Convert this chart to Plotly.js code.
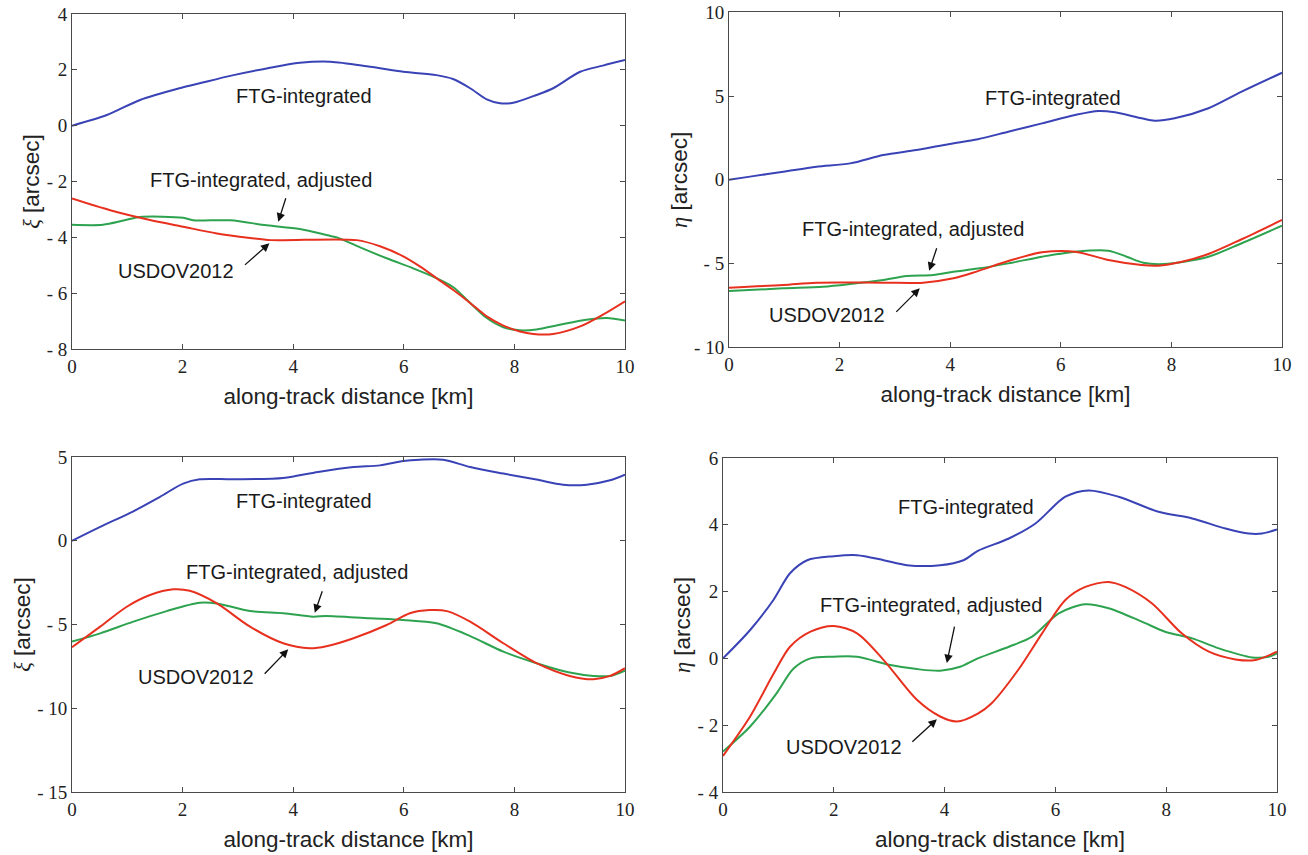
<!DOCTYPE html>
<html>
<head>
<meta charset="utf-8">
<script src="https://cdn.plot.ly/plotly-3.0.1.min.js"></script>
<style>
  html, body { margin: 0; padding: 0; background: #ffffff; }
  #chart { width: 1308px; height: 855px; }
</style>
</head>
<body>
<div id="chart"></div>
<script>
// ---- along-track profiles, panel (a): xi, first track ----
const xiA_ftg_x  = [0, 0.63, 1.23, 1.98, 2.31, 2.92, 3.52, 4.12, 4.67, 5.39, 5.99, 6.59, 6.89, 7.2, 7.5, 7.74, 7.98, 8.4, 8.7, 9.19, 9.6, 10];
const xiA_ftg_y  = [0, 0.38, 0.92, 1.36, 1.52, 1.81, 2.05, 2.25, 2.29, 2.11, 1.93, 1.81, 1.67, 1.34, 0.94, 0.80, 0.82, 1.10, 1.34, 1.93, 2.15, 2.35];
const xiA_usd_x  = [0, 0.69, 1.41, 2.01, 2.62, 3.22, 3.6, 5.15, 5.57, 5.99, 6.29, 6.59, 6.89, 7.2, 7.5, 7.8, 8.1, 8.34, 8.7, 9.19, 9.6, 10];
const xiA_usd_y  = [-2.61, -3.03, -3.38, -3.62, -3.86, -4.02, -4.1, -4.1, -4.32, -4.68, -5.04, -5.46, -5.88, -6.35, -6.83, -7.16, -7.37, -7.46, -7.46, -7.19, -6.77, -6.29];
const xiA_adj_x  = [0, 0.56, 0.93, 1.23, 2.01, 2.19, 2.86, 3.52, 4.12, 4.67, 4.79, 5.21, 5.69, 6.17, 6.59, 6.89, 7.2, 7.5, 7.8, 8.1, 8.4, 8.82, 9.3, 9.67, 10];
const xiA_adj_y  = [-3.55, -3.55, -3.4, -3.27, -3.3, -3.39, -3.39, -3.57, -3.7, -3.95, -4.0, -4.36, -4.75, -5.11, -5.46, -5.78, -6.35, -6.89, -7.22, -7.33, -7.3, -7.13, -6.95, -6.89, -6.98];

// ---- panel (b): eta, first track ----
const etaA_ftg_x = [0, 0.38, 0.98, 1.58, 2.19, 2.79, 3.39, 3.99, 4.5, 5.05, 5.66, 6.26, 6.68, 6.98, 7.46, 7.7, 8.06, 8.67, 9.27, 10];
const etaA_ftg_y = [0, 0.19, 0.48, 0.78, 0.98, 1.48, 1.78, 2.14, 2.42, 2.87, 3.37, 3.87, 4.11, 4.03, 3.67, 3.53, 3.67, 4.27, 5.26, 6.39];
const etaA_usd_x = [0, 0.98, 1.58, 2.79, 3.51, 4.06, 4.5, 5.05, 5.66, 6.26, 6.86, 7.46, 7.76, 8.19, 8.67, 9.27, 10];
const etaA_usd_y = [-6.44, -6.28, -6.14, -6.14, -6.14, -5.88, -5.45, -4.85, -4.33, -4.29, -4.79, -5.09, -5.13, -4.89, -4.43, -3.55, -2.4];
const etaA_adj_x = [0, 0.98, 1.7, 2.19, 2.79, 3.21, 3.69, 4.06, 4.5, 5.05, 5.66, 6.26, 6.86, 7.19, 7.49, 7.86, 8.67, 9.27, 10];
const etaA_adj_y = [-6.64, -6.48, -6.38, -6.22, -5.98, -5.74, -5.68, -5.49, -5.3, -4.99, -4.59, -4.29, -4.23, -4.59, -4.95, -5.03, -4.59, -3.79, -2.74];

// ---- panel (c): xi, second track ----
const xiB_ftg_x  = [0, 0.51, 1.11, 1.59, 2.01, 2.31, 2.92, 3.82, 4.45, 5.09, 5.57, 5.99, 6.29, 6.71, 7.2, 7.8, 8.4, 8.88, 9.31, 9.73, 10];
const xiB_ftg_y  = [0, 0.83, 1.76, 2.62, 3.41, 3.67, 3.67, 3.75, 4.11, 4.4, 4.5, 4.76, 4.84, 4.84, 4.4, 4.01, 3.65, 3.35, 3.35, 3.61, 3.95];
const xiB_usd_x  = [0, 0.51, 0.99, 1.41, 1.83, 2.13, 2.62, 3.22, 3.82, 4.3, 4.6, 5.09, 5.69, 6.11, 6.47, 6.78, 7.2, 7.8, 8.4, 9.0, 9.43, 9.73, 10];
const xiB_usd_y  = [-6.36, -5.13, -3.94, -3.24, -2.9, -2.99, -3.74, -5.13, -6.12, -6.42, -6.3, -5.82, -5.03, -4.33, -4.14, -4.2, -4.83, -6.12, -7.31, -8.07, -8.27, -8.07, -7.61];
const xiB_adj_x  = [0, 0.51, 1.11, 1.71, 2.31, 2.62, 3.22, 3.82, 4.36, 4.6, 5.39, 5.99, 6.59, 7.2, 7.8, 8.4, 9.0, 9.43, 9.73, 10];
const xiB_adj_y  = [-6.02, -5.53, -4.83, -4.2, -3.7, -3.74, -4.2, -4.33, -4.53, -4.49, -4.63, -4.73, -4.93, -5.69, -6.62, -7.31, -7.87, -8.07, -8.07, -7.75];

// ---- panel (d): eta, second track ----
const etaB_ftg_x = [0, 0.49, 0.91, 1.21, 1.52, 2.0, 2.42, 2.9, 3.32, 3.92, 4.34, 4.6, 5.16, 5.64, 6.18, 6.6, 7.14, 7.86, 8.47, 9.07, 9.49, 9.73, 10];
const etaB_ftg_y = [0, 0.85, 1.75, 2.55, 2.94, 3.06, 3.09, 2.94, 2.79, 2.79, 2.94, 3.22, 3.59, 4.04, 4.84, 5.03, 4.84, 4.39, 4.19, 3.89, 3.74, 3.74, 3.86];
const etaB_usd_x = [0, 0.49, 0.91, 1.21, 1.58, 2.0, 2.42, 2.9, 3.5, 3.92, 4.22, 4.6, 4.85, 5.33, 5.76, 6.18, 6.54, 6.96, 7.26, 7.74, 8.28, 8.77, 9.25, 9.61, 10];
const etaB_usd_y = [-2.92, -1.74, -0.47, 0.35, 0.8, 0.97, 0.75, -0.05, -1.24, -1.74, -1.89, -1.65, -1.34, -0.34, 0.75, 1.75, 2.14, 2.29, 2.14, 1.65, 0.75, 0.2, -0.03, -0.05, 0.2];
const etaB_adj_x = [0, 0.49, 0.97, 1.27, 1.58, 2.0, 2.42, 3.02, 3.5, 3.92, 4.28, 4.6, 5.16, 5.58, 6.06, 6.54, 6.96, 7.56, 7.98, 8.47, 8.95, 9.55, 9.85, 10];
const etaB_adj_y = [-2.79, -2.04, -1.04, -0.31, 0.0, 0.05, 0.05, -0.2, -0.32, -0.37, -0.25, 0.0, 0.35, 0.65, 1.35, 1.62, 1.5, 1.1, 0.8, 0.6, 0.3, 0.03, 0.05, 0.15];

// ---- tick labels ----
const xTicks        = [0, 2, 4, 6, 8, 10];
const xiA_ticks     = [-8, -6, -4, -2, 0, 2, 4];
const etaA_ticks    = [-10, -5, 0, 5, 10];
const xiB_ticks     = [-15, -10, -5, 0, 5];
const etaB_ticks    = [-4, -2, 0, 2, 4, 6];

// ---- annotation texts ----
const LBL_FTG = 'FTG-integrated';
const LBL_ADJ = 'FTG-integrated, adjusted';
const LBL_USD = 'USDOV2012';

const BLUE = '#3a43b6', RED = '#e8301f', GREEN = '#2ea34f';
const SERIF = "'Liberation Serif', 'Times New Roman', serif";
const SANS = "'Liberation Sans', Arial, sans-serif";

function tickText(vals) {
  return vals.map(v => v < 0 ? '- ' + Math.abs(v) : String(v));
}

function line(x, y, color, ax) {
  return { x: x, y: y, type: 'scatter', mode: 'lines', xaxis: 'x' + ax, yaxis: 'y' + ax,
           line: { color: color, width: 2, shape: 'spline', smoothing: 0.85 },
           hoverinfo: 'skip', showlegend: false };
}

const traces = [
  line(xiA_ftg_x, xiA_ftg_y, BLUE, ''), line(xiA_adj_x, xiA_adj_y, GREEN, ''), line(xiA_usd_x, xiA_usd_y, RED, ''),
  line(etaA_ftg_x, etaA_ftg_y, BLUE, '2'), line(etaA_adj_x, etaA_adj_y, GREEN, '2'), line(etaA_usd_x, etaA_usd_y, RED, '2'),
  line(xiB_ftg_x, xiB_ftg_y, BLUE, '3'), line(xiB_adj_x, xiB_adj_y, GREEN, '3'), line(xiB_usd_x, xiB_usd_y, RED, '3'),
  line(etaB_ftg_x, etaB_ftg_y, BLUE, '4'), line(etaB_adj_x, etaB_adj_y, GREEN, '4'), line(etaB_usd_x, etaB_usd_y, RED, '4')
];

function xAxis(domain, anchor) {
  return {
    domain: domain, anchor: anchor, range: [0, 10], tickvals: xTicks, ticktext: xTicks.map(String),
    ticks: 'inside', ticklen: 5, tickwidth: 1, tickcolor: '#4a4a4a',
    showline: true, linecolor: '#4a4a4a', linewidth: 1, mirror: 'ticks',
    showgrid: false, zeroline: false, fixedrange: true,
    tickfont: { family: SERIF, size: 19, color: '#222' },
    title: { text: 'along-track distance [km]', font: { family: SANS, size: 22.5, color: '#222' }, standoff: 12 }
  };
}
function yAxis(domain, anchor, range, vals, sym) {
  return {
    domain: domain, anchor: anchor, range: range, tickvals: vals, ticktext: tickText(vals),
    ticks: 'inside', ticklen: 5, tickwidth: 1, tickcolor: '#4a4a4a',
    showline: true, linecolor: '#4a4a4a', linewidth: 1, mirror: 'ticks',
    showgrid: false, zeroline: false, fixedrange: true,
    tickfont: { family: SERIF, size: 19, color: '#222' },
    title: { text: '<span style="font-family:' + SERIF + '"><i>' + sym + '</i></span> [arcsec]',
             font: { family: SANS, size: 22.5, color: '#222' }, standoff: 0 }
  };
}

function txt(xref, yref, x, y, s) {
  return { xref: xref, yref: yref, x: x, y: y, text: s, showarrow: false,
           xanchor: 'center', yanchor: 'middle', font: { family: SANS, size: 20, color: '#1a1a1a' } };
}
function arrow(xref, yref, x, y, ax, ay) {
  return { xref: xref, yref: yref, x: x, y: y, text: '', showarrow: true, ax: ax, ay: ay,
           arrowhead: 2, arrowsize: 1.3, arrowwidth: 1.3, arrowcolor: '#111' };
}

const annotations = [
  txt('x', 'y', 4.2, 1.08, LBL_FTG),
  txt('x', 'y', 3.42, -1.93, LBL_ADJ),
  arrow('x', 'y', 3.73, -3.44, 8, -25),
  txt('x', 'y', 1.88, -5.22, LBL_USD),
  arrow('x', 'y', 3.57, -4.21, -26, 23),

  txt('x2', 'y2', 5.86, 4.87, LBL_FTG),
  txt('x2', 'y2', 3.32, -2.96, LBL_ADJ),
  arrow('x2', 'y2', 3.62, -5.43, 8, -24),
  txt('x2', 'y2', 1.78, -8.07, LBL_USD),
  arrow('x2', 'y2', 3.45, -6.48, -25, 25),

  txt('x3', 'y3', 4.2, 2.35, LBL_FTG),
  txt('x3', 'y3', 4.07, -1.85, LBL_ADJ),
  arrow('x3', 'y3', 4.39, -4.3, 8, -23),
  txt('x3', 'y3', 2.25, -8.11, LBL_USD),
  arrow('x3', 'y3', 3.91, -6.48, -25, 26),

  txt('x4', 'y4', 4.38, 4.54, LBL_FTG),
  txt('x4', 'y4', 3.76, 1.6, LBL_ADJ),
  arrow('x4', 'y4', 4.04, -0.14, 8, -38),
  txt('x4', 'y4', 2.18, -2.64, LBL_USD),
  arrow('x4', 'y4', 3.86, -1.82, -26, 24)
];

const layout = {
  width: 1308, height: 855,
  margin: { l: 0, r: 0, t: 0, b: 0 },
  paper_bgcolor: '#ffffff', plot_bgcolor: '#ffffff',
  showlegend: false,
  xaxis:  xAxis([0.05505, 0.47783], 'y'),
  yaxis:  yAxis([0.59181, 0.98363], 'x', [-8, 4], xiA_ticks, 'ξ'),
  xaxis2: xAxis([0.55734, 0.98012], 'y2'),
  yaxis2: yAxis([0.59380, 0.98561], 'x2', [-10, 10], etaA_ticks, 'η'),
  xaxis3: xAxis([0.05505, 0.47783], 'y3'),
  yaxis3: yAxis([0.07368, 0.46550], 'x3', [-15, 5], xiB_ticks, 'ξ'),
  xaxis4: xAxis([0.55275, 0.97630], 'y4'),
  yaxis4: yAxis([0.07368, 0.46433], 'x4', [-4, 6], etaB_ticks, 'η'),
  annotations: annotations
};

Plotly.newPlot('chart', traces, layout, { staticPlot: true, displayModeBar: false });
</script>
</body>
</html>
